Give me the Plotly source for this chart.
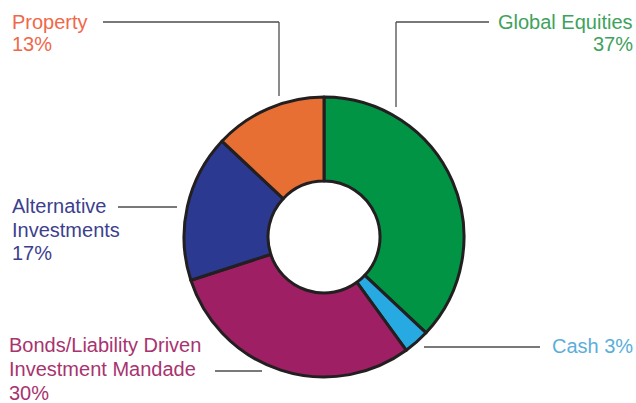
import plotly.graph_objects as go

# Asset allocation (percent of fund)
categories = ["Global Equities", "Cash", "Bonds/Liability Driven Investment Mandade",
              "Alternative Investments", "Property"]
shares = [37, 3, 30, 17, 13]
slice_colors = ["#009444", "#27AAE1", "#9E1F63", "#2B3990", "#E86F34"]

W, H = 636, 403
FONT = "Liberation Sans"


def px(x, y):
    """Convert pixel position (from top-left) into paper coordinates."""
    return x / W, 1 - y / H


# donut geometry in pixels
cx, cy, r = 324, 237, 140
x0, y0 = px(cx - r, cy + r)
x1, y1 = px(cx + r, cy - r)

fig = go.Figure(go.Pie(
    labels=categories,
    values=shares,
    hole=0.4,
    sort=False,
    direction="clockwise",
    rotation=0,
    marker=dict(colors=slice_colors, line=dict(color="#231F20", width=3)),
    textinfo="none",
    hoverinfo="label+percent",
    showlegend=False,
    domain=dict(x=[x0, x1], y=[y0, y1]),
))

# leader lines (pixel polylines)
leaders = [
    [(103, 22), (279, 22), (279, 96)],       # Property
    [(489, 22), (396, 22), (396, 107)],      # Global Equities
    [(118, 207), (177, 207)],                # Alternative Investments
    [(215, 371), (262, 371)],                # Bonds / LDI
    [(424, 347), (540, 347)],                # Cash
]
shapes = []
for pts in leaders:
    for (ax, ay), (bx, by) in zip(pts[:-1], pts[1:]):
        p0, p1 = px(ax, ay), px(bx, by)
        shapes.append(dict(type="line", xref="paper", yref="paper",
                           x0=p0[0], y0=p0[1], x1=p1[0], y1=p1[1],
                           line=dict(color="#4D4D4D", width=1.3)))

# label lines: text, x, y (line centre), anchor, colour
label_lines = [
    ("Property", 11, 22, "left", "#F0684A"),
    ("13%", 11, 44, "left", "#F0684A"),
    ("Global Equities", 634, 22, "right", "#3EA25C"),
    ("37%", 634, 44, "right", "#3EA25C"),
    ("Alternative", 11, 206, "left", "#3D3F8E"),
    ("Investments", 11, 230, "left", "#3D3F8E"),
    ("17%", 11, 253, "left", "#3D3F8E"),
    ("Bonds/Liability Driven", 8, 345, "left", "#A8336F"),
    ("Investment Mandade", 8, 369, "left", "#A8336F"),
    ("30%", 8, 393, "left", "#A8336F"),
    ("Cash 3%", 634, 346, "right", "#5BAEDB"),
]
annotations = []
for text, x, y, anchor, col in label_lines:
    ax, ay = px(x, y)
    annotations.append(dict(text=text, x=ax, y=ay, xref="paper", yref="paper",
                            xanchor=anchor, yanchor="middle", showarrow=False,
                            font=dict(family=FONT, size=20, color=col),
                            borderpad=0))

fig.update_layout(
    width=W, height=H,
    margin=dict(l=0, r=0, t=0, b=0),
    paper_bgcolor="white", plot_bgcolor="white",
    shapes=shapes, annotations=annotations,
)

fig.write_html("out.html")
